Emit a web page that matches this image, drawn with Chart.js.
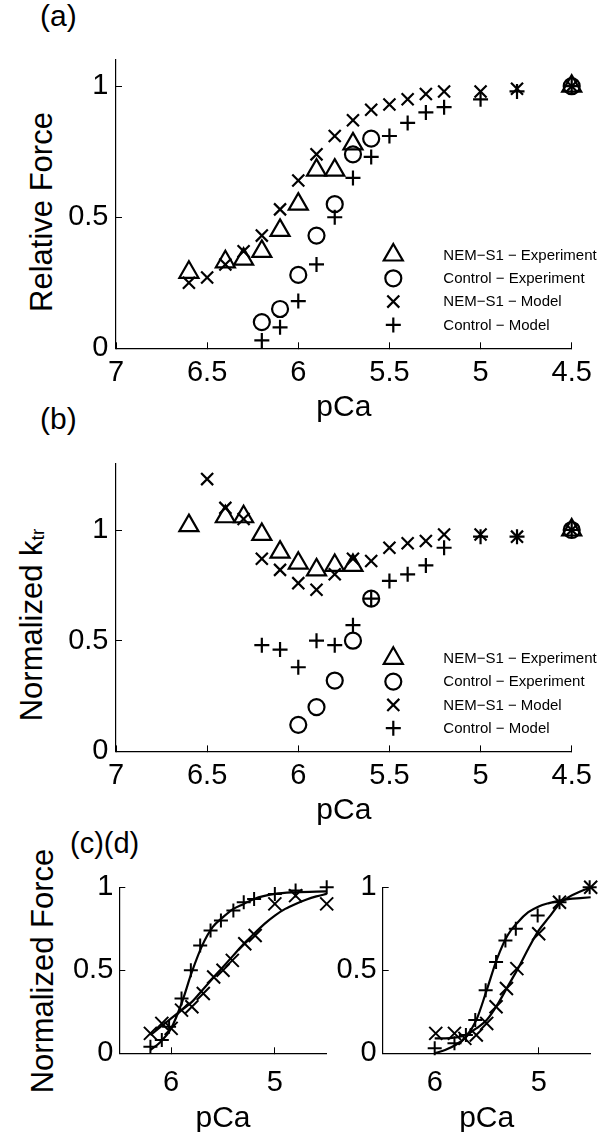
<!DOCTYPE html>
<html>
<head>
<meta charset="utf-8">
<script src="https://cdn.jsdelivr.net/npm/chart.js@4.4.0/dist/chart.umd.min.js"></script>
<style>
html,body{margin:0;padding:0;background:#fff;width:610px;height:1132px;overflow:hidden;position:relative;}
canvas{position:absolute;}
.lbl{position:absolute;font-family:"Liberation Sans",Arial,Helvetica,sans-serif;color:#000;white-space:nowrap;line-height:1;}
.yt{position:absolute;font-family:"Liberation Sans",Arial,Helvetica,sans-serif;color:#000;white-space:nowrap;line-height:1;font-size:31px;transform:translate(-50%,-50%) rotate(-90deg);}
.yt sub{font-size:0.62em;line-height:0;vertical-align:-0.14em;}
</style>
</head>
<body>
<div class="lbl" style="left:40px;top:1px;font-size:30px">(a)</div>
<div class="lbl" style="left:40px;top:404px;font-size:30px">(b)</div>
<div class="lbl" style="left:70px;top:829px;font-size:29px">(c)(d)</div>
<div class="yt" style="left:41px;top:212px">Relative Force</div>
<div class="yt" style="left:31px;top:625px">Normalized k<sub>tr</sub></div>
<div class="yt" style="left:42px;top:971px">Normalized Force</div>

<canvas id="ca" width="610" height="423" style="left:0;top:0"></canvas>
<canvas id="cb" width="610" height="403" style="left:0;top:423px"></canvas>
<canvas id="cc" width="345" height="314" style="left:0;top:820px"></canvas>
<canvas id="cd" width="310" height="314" style="left:300px;top:820px"></canvas>

<script>
const FONT = '"Liberation Sans", Arial, Helvetica, sans-serif';

// ---------- tick values ----------
const abTicksX = [4.5, 5, 5.5, 6, 6.5, 7];
const aTicksY = [0, 0.5, 1];
const bTicksY = [0, 0.5, 1];
const cdTicksX = [5, 6];
const cdTicksY = [0, 0.5, 1];

// ---------- legend labels ----------
const legendLabels = ['NEM\u2212S1 \u2212 Experiment', 'Control \u2212 Experiment', 'NEM\u2212S1 \u2212 Model', 'Control \u2212 Model'];

// ---------- panel (a): relative force ----------
const a_pca_nemExp = [6.6, 6.4, 6.3, 6.2, 6.1, 6.0, 5.9, 5.8, 5.7, 4.5];
const a_f_nemExp   = [0.29, 0.33, 0.34, 0.37, 0.45, 0.55, 0.68, 0.68, 0.78, 1.0];
const a_pca_conExp = [6.2, 6.1, 6.0, 5.9, 5.8, 5.7, 5.6, 4.5];
const a_f_conExp   = [0.10, 0.15, 0.28, 0.43, 0.55, 0.74, 0.80, 1.0];
const a_pca_nemMod = [6.6, 6.5, 6.4, 6.3, 6.2, 6.1, 6.0, 5.9, 5.8, 5.7, 5.6, 5.5, 5.4, 5.3, 5.2, 5.0, 4.8, 4.5];
const a_f_nemMod   = [0.25, 0.27, 0.32, 0.37, 0.43, 0.53, 0.64, 0.74, 0.81, 0.87, 0.91, 0.93, 0.95, 0.97, 0.98, 0.98, 0.99, 1.0];
const a_pca_conMod = [6.2, 6.1, 6.0, 5.9, 5.8, 5.7, 5.6, 5.5, 5.4, 5.3, 5.2, 5.0, 4.8, 4.5];
const a_f_conMod   = [0.03, 0.08, 0.18, 0.32, 0.50, 0.65, 0.73, 0.81, 0.86, 0.90, 0.92, 0.95, 0.98, 1.0];

// ---------- panel (b): normalized ktr ----------
const b_pca_nemExp = [6.6, 6.4, 6.3, 6.2, 6.1, 6.0, 5.9, 5.8, 5.7, 4.5];
const b_k_nemExp   = [1.02, 1.06, 1.06, 0.98, 0.90, 0.85, 0.82, 0.84, 0.84, 1.0];
const b_pca_conExp = [6.0, 5.9, 5.8, 5.7, 5.6, 4.5];
const b_k_conExp   = [0.12, 0.20, 0.32, 0.50, 0.69, 1.0];
const b_pca_nemMod = [6.5, 6.4, 6.3, 6.2, 6.1, 6.0, 5.9, 5.8, 5.7, 5.6, 5.5, 5.4, 5.3, 5.2, 5.0, 4.8, 4.5];
const b_k_nemMod   = [1.23, 1.10, 1.05, 0.87, 0.82, 0.76, 0.73, 0.80, 0.87, 0.86, 0.92, 0.94, 0.95, 0.98, 0.98, 0.97, 1.0];
const b_pca_conMod = [6.2, 6.1, 6.0, 5.9, 5.8, 5.7, 5.6, 5.5, 5.4, 5.3, 5.2, 5.0, 4.8, 4.5];
const b_k_conMod   = [0.48, 0.46, 0.38, 0.50, 0.48, 0.57, 0.69, 0.77, 0.80, 0.84, 0.92, 0.97, 0.97, 1.0];

// ---------- panel (c): normalized force, points and fitted curves ----------
const c_pca_con = [6.20, 6.09, 6.02, 5.90, 5.81, 5.72, 5.62, 5.52, 5.40, 5.30, 5.20, 5.00, 4.80, 4.50];
const c_f_con   = [0.04, 0.08, 0.16, 0.33, 0.50, 0.65, 0.74, 0.80, 0.86, 0.91, 0.93, 0.96, 0.98, 1.00];
const c_pca_nem = [6.20, 6.09, 6.00, 5.90, 5.80, 5.69, 5.59, 5.50, 5.41, 5.29, 5.19, 5.00, 4.80, 4.50];
const c_f_nem   = [0.12, 0.18, 0.15, 0.26, 0.28, 0.36, 0.46, 0.50, 0.56, 0.66, 0.71, 0.90, 0.95, 0.90];
const c_fitPca_con = [6.2, 6.1, 6.0, 5.9, 5.8, 5.7, 5.6, 5.5, 5.4, 5.3, 5.2, 5.0, 4.8, 4.5];
const c_fitF_con   = [0.02, 0.07, 0.15, 0.30, 0.49, 0.65, 0.76, 0.82, 0.87, 0.90, 0.93, 0.96, 0.97, 0.975];
const c_fitPca_nem = [6.2, 6.1, 6.0, 5.9, 5.8, 5.7, 5.6, 5.5, 5.4, 5.3, 5.2, 5.1, 5.0, 4.9, 4.8, 4.7, 4.6, 4.5];
const c_fitF_nem   = [0.11, 0.16, 0.21, 0.26, 0.31, 0.38, 0.45, 0.52, 0.59, 0.66, 0.72, 0.78, 0.83, 0.87, 0.90, 0.925, 0.945, 0.96];

// ---------- panel (d) ----------
const d_pca_con = [6.00, 5.81, 5.70, 5.61, 5.51, 5.41, 5.32, 5.22, 5.01, 4.80, 4.51];
const d_f_con   = [0.03, 0.06, 0.11, 0.20, 0.38, 0.55, 0.68, 0.75, 0.83, 0.91, 1.00];
const d_pca_nem = [5.99, 5.81, 5.71, 5.60, 5.50, 5.41, 5.31, 5.21, 5.00, 4.80, 4.50];
const d_f_nem   = [0.12, 0.12, 0.09, 0.11, 0.18, 0.28, 0.39, 0.51, 0.72, 0.91, 1.00];
const d_fitPca_con = [6.0, 5.9, 5.8, 5.7, 5.6, 5.5, 5.4, 5.3, 5.2, 5.1, 5.0, 4.9, 4.8, 4.7, 4.6, 4.5];
const d_fitF_con   = [0.0, 0.02, 0.05, 0.10, 0.20, 0.38, 0.57, 0.71, 0.79, 0.85, 0.885, 0.905, 0.92, 0.93, 0.935, 0.94];
const d_fitPca_nem = [6.0, 5.9, 5.8, 5.7, 5.6, 5.5, 5.4, 5.3, 5.2, 5.1, 5.0, 4.9, 4.8, 4.7, 4.6, 4.5];
const d_fitF_nem   = [0.09, 0.09, 0.095, 0.11, 0.15, 0.20, 0.29, 0.40, 0.51, 0.63, 0.74, 0.82, 0.90, 0.945, 0.975, 1.0];

// ---------- helpers ----------
const zip = (xs, ys) => xs.map((x, i) => ({x: x, y: ys[i]}));
function pts(xs, ys, style, r, bw) {
  return {data: zip(xs, ys), showLine: false, pointStyle: style, pointRadius: r, pointHoverRadius: r,
    pointBorderWidth: bw, pointBorderColor: '#000', pointBackgroundColor: 'rgba(0,0,0,0)',
    borderColor: '#000', backgroundColor: 'rgba(0,0,0,0)', clip: false};
}
function curve(xs, ys) {
  return {data: zip(xs, ys), showLine: true, pointRadius: 0, borderColor: '#000', borderWidth: 2.2,
    cubicInterpolationMode: 'monotone', fill: false, clip: false};
}
function scales(o) {
  const axisCommon = {
    grid: {drawOnChartArea: false, drawTicks: true, tickLength: -6, color: '#000', lineWidth: 1},
    border: {display: true, color: '#000', width: 1.2}
  };
  return {
    x: Object.assign({type: 'linear', position: 'bottom', reverse: true, min: o.xmin, max: o.xmax,
      afterBuildTicks: s => { s.ticks = o.xt.map(v => ({value: v})); },
      afterFit: s => { s.height = o.xh; },
      ticks: {autoSkip: false, maxRotation: 0, minRotation: 0, padding: o.xpad, color: '#000',
        font: {family: FONT, size: 29}, callback: v => String(v)},
      title: {display: true, text: 'pCa', color: '#000', font: {family: FONT, size: 30, lineHeight: 1}, padding: 0}
    }, axisCommon),
    y: Object.assign({type: 'linear', position: 'left', min: 0, max: o.ymax,
      afterBuildTicks: s => { s.ticks = o.yt.map(v => ({value: v})); },
      afterFit: s => { s.width = o.yw; },
      ticks: {autoSkip: false, padding: o.ypad, color: '#000', font: {family: FONT, size: 29}, callback: v => String(v)}
    }, axisCommon)
  };
}
function drawMarker(ctx, style, r, x, y) {
  ctx.beginPath();
  if (style === 'triangle') {
    ctx.moveTo(x, y - r);
    ctx.lineTo(x + r * Math.sin(2 * Math.PI / 3), y - r * Math.cos(2 * Math.PI / 3));
    ctx.lineTo(x + r * Math.sin(4 * Math.PI / 3), y - r * Math.cos(4 * Math.PI / 3));
    ctx.closePath();
  } else if (style === 'circle') {
    ctx.arc(x, y, r, 0, 2 * Math.PI);
  } else if (style === 'crossRot') {
    const d = r * Math.SQRT1_2;
    ctx.moveTo(x - d, y - d); ctx.lineTo(x + d, y + d);
    ctx.moveTo(x - d, y + d); ctx.lineTo(x + d, y - d);
  } else {
    ctx.moveTo(x, y - r); ctx.lineTo(x, y + r);
    ctx.moveTo(x - r, y); ctx.lineTo(x + r, y);
  }
  ctx.stroke();
}
function legendPlugin(entries, mx, tx, fromBottom, dy) {
  return {id: 'miniLegend', afterDatasetsDraw(chart) {
    const ctx = chart.ctx, ca = chart.chartArea;
    ctx.save();
    entries.forEach((e, i) => {
      const y = ca.bottom - fromBottom + i * dy;
      ctx.strokeStyle = '#000'; ctx.lineWidth = e.bw;
      drawMarker(ctx, e.style, e.r, mx, y);
      ctx.fillStyle = '#000'; ctx.font = '15px ' + FONT;
      ctx.textAlign = 'left'; ctx.textBaseline = 'middle';
      ctx.fillText(e.label, tx, y + 0.5);
    });
    ctx.restore();
  }};
}
const base = {animation: false, responsive: false, devicePixelRatio: 1, events: [],
  plugins: {legend: {display: false}, tooltip: {enabled: false}}};

const S = {tri: ['triangle', 11, 2.2], cir: ['circle', 8, 2.2], xr: ['crossRot', 8.5, 2.2], pl: ['cross', 7.5, 2.2]};
const legendEntries = [S.tri, S.cir, S.xr, S.pl].map((s, i) => ({style: s[0], r: s[1], bw: s[2], label: legendLabels[i]}));

// ---------- (a) ----------
new Chart(document.getElementById('ca'), {
  type: 'scatter',
  data: {datasets: [
    pts(a_pca_nemExp, a_f_nemExp, ...S.tri),
    pts(a_pca_conExp, a_f_conExp, ...S.cir),
    pts(a_pca_nemMod, a_f_nemMod, ...S.xr),
    pts(a_pca_conMod, a_f_conMod, ...S.pl)
  ]},
  options: Object.assign({}, base, {
    layout: {padding: {top: 60, right: 38.3, left: 0, bottom: 0}},
    scales: scales({xmin: 4.5, xmax: 7, xt: abTicksX, xh: 423 - 348.3, xpad: 13, ymax: 1.1, yt: aTicksY, yw: 116, ypad: 13.5})
  }),
  plugins: [legendPlugin(legendEntries, 393.3, 443.3, 93.3, 23.3)]
});

// ---------- (b) ----------
new Chart(document.getElementById('cb'), {
  type: 'scatter',
  data: {datasets: [
    pts(b_pca_nemExp, b_k_nemExp, ...S.tri),
    pts(b_pca_conExp, b_k_conExp, ...S.cir),
    pts(b_pca_nemMod, b_k_nemMod, ...S.xr),
    pts(b_pca_conMod, b_k_conMod, ...S.pl)
  ]},
  options: Object.assign({}, base, {
    layout: {padding: {top: 463.6 - 423, right: 38.3, left: 0, bottom: 0}},
    scales: scales({xmin: 4.5, xmax: 7, xt: abTicksX, xh: 826 - 751.4, xpad: 13, ymax: 1.3, yt: bTicksY, yw: 116, ypad: 13.5})
  }),
  plugins: [legendPlugin(legendEntries, 393.3, 443.3, 93.1, 23.3)]
});

// ---------- (c) ----------
new Chart(document.getElementById('cc'), {
  type: 'scatter',
  data: {datasets: [
    curve(c_fitPca_con, c_fitF_con),
    curve(c_fitPca_nem, c_fitF_nem),
    pts(c_pca_con, c_f_con, 'cross', 7, 2),
    pts(c_pca_nem, c_f_nem, 'crossRot', 9.2, 2)
  ]},
  options: Object.assign({}, base, {
    layout: {padding: {top: 887.3 - 820, right: 345 - 326.7, left: 0, bottom: 0}},
    scales: scales({xmin: 4.5, xmax: 6.5, xt: cdTicksX, xh: 1134 - 1053.3, xpad: 18, ymax: 1, yt: cdTicksY, yw: 119.3, ypad: 12})
  })
});

// ---------- (d) ----------
new Chart(document.getElementById('cd'), {
  type: 'scatter',
  data: {datasets: [
    curve(d_fitPca_con, d_fitF_con),
    curve(d_fitPca_nem, d_fitF_nem),
    pts(d_pca_con, d_f_con, 'cross', 7, 2),
    pts(d_pca_nem, d_f_nem, 'crossRot', 9.2, 2)
  ]},
  options: Object.assign({}, base, {
    layout: {padding: {top: 887.3 - 820, right: 610 - 590.7, left: 0, bottom: 0}},
    scales: scales({xmin: 4.5, xmax: 6.5, xt: cdTicksX, xh: 1134 - 1053.3, xpad: 18, ymax: 1, yt: cdTicksY, yw: 382.7 - 300, ypad: 12})
  })
});
</script>
</body>
</html>
